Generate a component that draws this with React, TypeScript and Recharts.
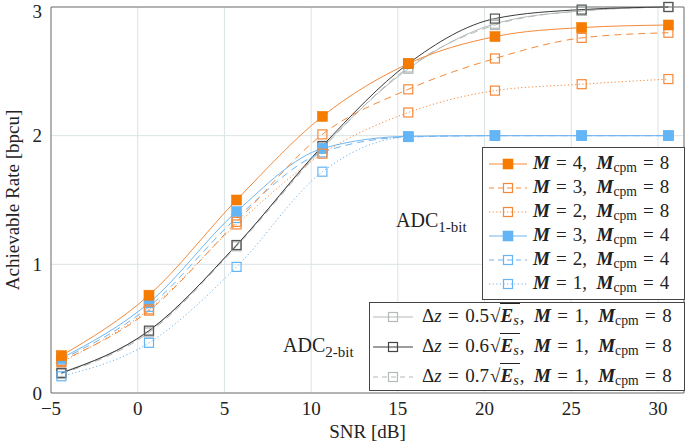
import React from 'react';
import { LineChart, Line, XAxis, YAxis, CartesianGrid, ReferenceLine, Legend } from 'recharts';

const snrDb = [-4.4, 0.65, 5.7, 10.65, 15.6, 20.6, 25.6, 30.6];
const m4c8 = [0.29, 0.76, 1.5, 2.15, 2.56, 2.77, 2.84, 2.86];
const m3c8 = [0.25, 0.64, 1.33, 2.01, 2.36, 2.6, 2.76, 2.8];
const m2c8 = [0.24, 0.65, 1.31, 1.86, 2.18, 2.35, 2.4, 2.44];
const m3c4 = [0.27, 0.7, 1.41, 1.9, 1.995, 2.0, 2.0, 2.0];
const m2c4 = [0.26, 0.67, 1.36, 1.87, 1.99, 2.0, 2.0, 2.0];
const m1c4 = [0.13, 0.39, 0.98, 1.72, 1.99, 2.0, 2.0, 2.0];
const dz05 = [0.16, 0.48, 1.15, 1.91, 2.52, 2.87, 2.97, 3.0];
const dz06 = [0.155, 0.485, 1.15, 1.92, 2.56, 2.91, 2.98, 3.0];
const dz07 = [0.15, 0.47, 1.14, 1.9, 2.53, 2.86, 2.97, 3.0];

const xTicks = [-5, 0, 5, 10, 15, 20, 25, 30];
const yTicks = [0, 1, 2, 3];

const data = snrDb.map((x, i) => ({
  x,
  m4c8: m4c8[i], m3c8: m3c8[i], m2c8: m2c8[i],
  m3c4: m3c4[i], m2c4: m2c4[i], m1c4: m1c4[i],
  dz05: dz05[i], dz06: dz06[i], dz07: dz07[i],
}));

const ORANGE = '#f57c00';
const ORANGE_L = '#f5893a';
const BLUE = '#64b5f6';
const BLUE_L = '#6fb5f2';
const DARK = '#3a3a3a';
const LGRAY = '#b4b9b9';
const FONT = '"Liberation Serif", serif';

const DASH = '7 5';
const DOT = '1.2 2.4';

type S = { key: string; line: string; mark: string; filled: boolean; dash?: string };
const series: S[] = [
  { key: 'dz05', line: LGRAY, mark: LGRAY, filled: false },
  { key: 'dz07', line: LGRAY, mark: LGRAY, filled: false, dash: DASH },
  { key: 'dz06', line: DARK, mark: '#555', filled: false },
  { key: 'm1c4', line: BLUE_L, mark: BLUE, filled: false, dash: DOT },
  { key: 'm2c4', line: BLUE_L, mark: BLUE, filled: false, dash: DASH },
  { key: 'm3c4', line: BLUE_L, mark: BLUE, filled: true },
  { key: 'm2c8', line: ORANGE_L, mark: ORANGE_L, filled: false, dash: DOT },
  { key: 'm3c8', line: ORANGE_L, mark: ORANGE_L, filled: false, dash: DASH },
  { key: 'm4c8', line: ORANGE_L, mark: ORANGE, filled: true },
];

const squareDot = (color: string, filled: boolean) => (props: any) => {
  const { cx, cy, index } = props;
  if (cx == null || cy == null) return <g key={index} />;
  const s = filled ? 10 : 9;
  return (
    <rect key={index} x={cx - s / 2} y={cy - s / 2} width={s} height={s}
      fill={filled ? color : 'none'} stroke={color} strokeWidth={filled ? 0.6 : 1.2} />
  );
};

const Mb = () => <span style={{ fontWeight: 'bold', fontStyle: 'italic' }}>M</span>;
const Mcpm = () => (
  <span><Mb /><span style={{ fontSize: '0.72em', verticalAlign: '-0.25em' }}>cpm</span></span>
);
const Eq = ({ p = 0.28 }: { p?: number }) => <span style={{ padding: `0 ${p}em` }}>=</span>;

const Sample = ({ line, mark, filled, dash, len }: any) => (
  <svg width={len} height={14} style={{ display: 'block' }}>
    <line x1={0} y1={7} x2={len} y2={7} stroke={line} strokeWidth={1} strokeDasharray={dash} />
    <rect x={len / 2 - (filled ? 5 : 4.5)} y={7 - (filled ? 5 : 4.5)} width={filled ? 10 : 9} height={filled ? 10 : 9}
      fill={filled ? mark : 'none'} stroke={mark} strokeWidth={filled ? 0.6 : 1.2} />
  </svg>
);

const legend1 = [
  { line: ORANGE_L, mark: ORANGE, filled: true, m: '4', c: '8' },
  { line: ORANGE_L, mark: ORANGE_L, filled: false, dash: '5 4', m: '3', c: '8' },
  { line: ORANGE_L, mark: ORANGE_L, filled: false, dash: DOT, m: '2', c: '8' },
  { line: BLUE_L, mark: BLUE, filled: true, m: '3', c: '4' },
  { line: BLUE_L, mark: BLUE, filled: false, dash: '5 4', m: '2', c: '4' },
  { line: BLUE_L, mark: BLUE, filled: false, dash: DOT, m: '1', c: '4' },
];
const legend2 = [
  { line: LGRAY, mark: LGRAY, filled: false, d: '0.5' },
  { line: DARK, mark: '#444', filled: false, d: '0.6' },
  { line: LGRAY, mark: LGRAY, filled: false, dash: '5 4', d: '0.7' },
];

const LegendBoxes = () => (
  <div style={{ position: 'relative', width: 0, height: 0, fontFamily: FONT, color: '#222' }}>
    <div style={{ position: 'absolute', left: 482, top: 147, width: 203, height: 153, boxSizing: 'border-box',
      border: '1px solid #444', background: '#fff' }}>
      {legend1.map((r, i) => (
        <div key={i} style={{ position: 'absolute', left: 6, top: 4 + i * 24, height: 24, display: 'flex',
          alignItems: 'center', whiteSpace: 'nowrap', fontSize: 19 }}>
          <Sample {...r} len={38} />
          <span style={{ marginLeft: 6 }}>
            <Mb /><Eq p={0.32} />{r.m},&nbsp;&nbsp;<Mcpm /><Eq p={0.32} />{r.c}
          </span>
        </div>
      ))}
    </div>
    <div style={{ position: 'absolute', left: 369, top: 302, width: 316, height: 89, boxSizing: 'border-box',
      border: '1px solid #444', background: '#fff' }}>
      {legend2.map((r, i) => (
        <div key={i} style={{ position: 'absolute', left: 3, top: 0 + i * 30, height: 28, display: 'flex',
          alignItems: 'center', whiteSpace: 'nowrap', fontSize: 19 }}>
          <Sample {...r} len={40} />
          <span style={{ marginLeft: 9 }}>
            Δ<i>z</i><Eq p={0.34} />{r.d}<span style={{ paddingLeft: 1 }}>√</span><span style={{ borderTop: '1px solid #222', paddingTop: 1, paddingRight: 1 }}><b><i>E</i></b><i style={{ fontSize: '0.75em', verticalAlign: '-0.2em' }}>s</i></span>,&nbsp;&nbsp;<Mb /><Eq p={0.34} />1,&nbsp;&nbsp;<Mcpm /><Eq p={0.34} />8
          </span>
        </div>
      ))}
    </div>
    <div style={{ position: 'absolute', left: 396, top: 209, fontSize: 20, whiteSpace: 'nowrap' }}>
      ADC<span style={{ fontSize: '0.75em', verticalAlign: '-0.3em' }}>1-bit</span>
    </div>
    <div style={{ position: 'absolute', left: 283, top: 334, fontSize: 20, whiteSpace: 'nowrap' }}>
      ADC<span style={{ fontSize: '0.75em', verticalAlign: '-0.3em' }}>2-bit</span>
    </div>
  </div>
);

const fmt = (v: number) => String(v).replace('-', '\u2212');

export default function App() {
  return (
    <div style={{ position: 'absolute', left: 0, top: 0, width: 685, height: 446, background: '#fff' }}>
      <LineChart width={685} height={446} data={data} margin={{ top: 7, right: 1, left: 0, bottom: 0 }}
        style={{ fontFamily: FONT }}>
        <CartesianGrid stroke="#dbe3e5" strokeWidth={1} />
        <XAxis dataKey="x" type="number" domain={[-5, 31.5]} ticks={xTicks} allowDataOverflow
          tickFormatter={fmt} height={53} tickLine={false} tickSize={0} tickMargin={9}
          axisLine={{ stroke: '#777' }} tick={{ fill: '#222', fontSize: 19, fontFamily: FONT }}
          label={{ value: 'SNR [dB]', position: 'insideBottom', offset: 8, fill: '#222', fontSize: 19, fontFamily: FONT }} />
        <YAxis type="number" domain={[0, 3]} ticks={yTicks} width={51} tickLine={false} tickSize={0} tickMargin={9}
          axisLine={{ stroke: '#777' }} tick={{ fill: '#222', fontSize: 19, fontFamily: FONT }}
          label={{ value: 'Achievable Rate [bpcu]', angle: -90, position: 'insideLeft', offset: 12, fill: '#222',
            fontSize: 19, fontFamily: FONT, style: { textAnchor: 'middle' } }} />
        <ReferenceLine y={3} stroke="#777" ifOverflow="visible" />
        <ReferenceLine x={31.5} stroke="#777" ifOverflow="visible" />
        {series.map((s) => (
          <Line key={s.key} dataKey={s.key} type="monotone" stroke={s.line} strokeWidth={1}
            strokeDasharray={s.dash} dot={squareDot(s.mark, s.filled)} activeDot={false}
            isAnimationActive={false} legendType="none" />
        ))}
        <Legend content={() => <LegendBoxes />}
          wrapperStyle={{ position: 'absolute', left: 0, top: 0, width: 0, height: 0, margin: 0, padding: 0 }} />
      </LineChart>
    </div>
  );
}
